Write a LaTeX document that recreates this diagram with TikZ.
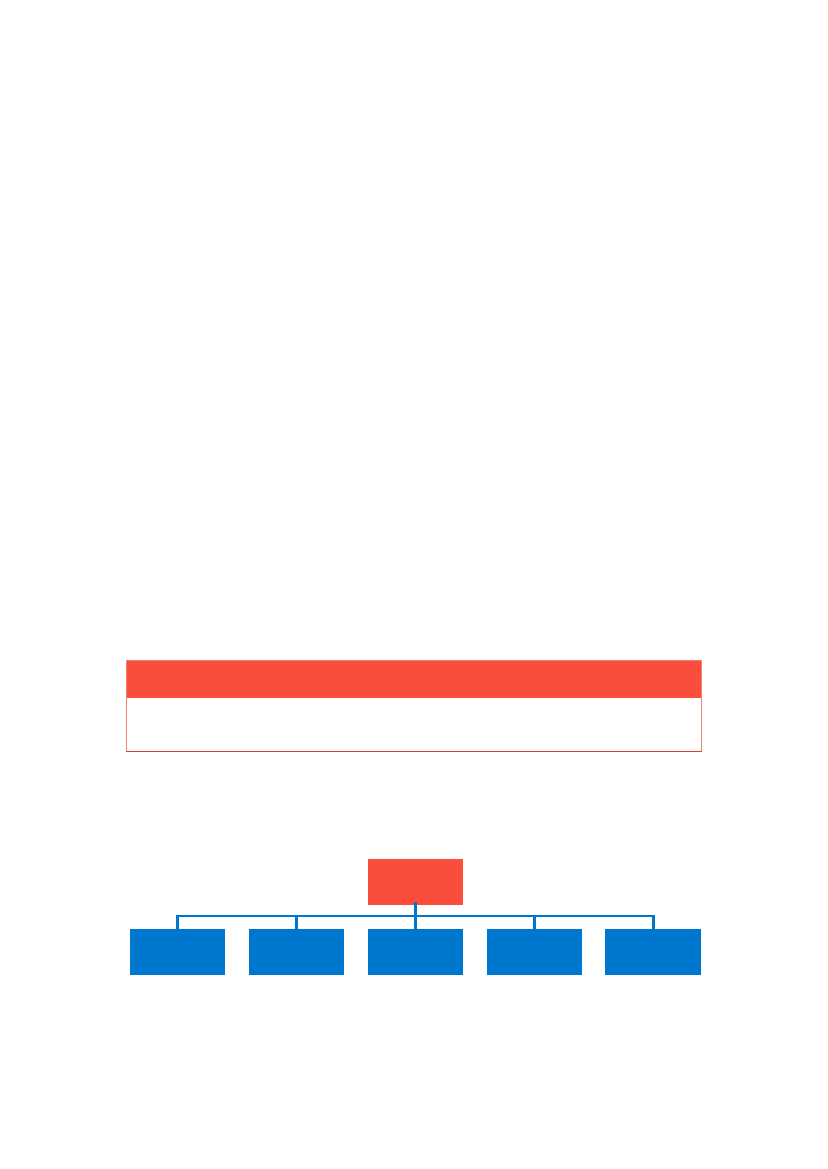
\documentclass[tikz,border=0pt]{standalone}
\definecolor{hred}{HTML}{FA4D3C}
\definecolor{hblue}{HTML}{0077CF}
\definecolor{tborder}{HTML}{F2826F}
\begin{document}
\begin{tikzpicture}[x=1pt,y=-1pt,
  redbox/.style={fill=hred,draw=none,minimum width=95pt,minimum height=46pt,inner sep=0pt,anchor=north west},
  bluebox/.style={fill=hblue,draw=none,minimum width=95pt,minimum height=46pt,inner sep=0pt,anchor=north west},
  conn/.style={draw=hblue,line width=2.7pt}]
\useasboundingbox (0,0) rectangle (827,1169);
% table
\node[fill=hred,draw=none,minimum width=575pt,minimum height=37.5pt,inner sep=0pt,anchor=north west] (thead) at (126,660) {};
\node[draw=tborder,line width=0.8pt,minimum width=575pt,minimum height=91pt,inner sep=0pt,anchor=north west] (tbl) at (126,660) {};
\draw[hred!85!black,line width=0.9pt] (tbl.south west) -- (tbl.south east);
% tree
\node[redbox] (r) at (368,859) {};
\node[bluebox] (c1) at (130,929) {};
\node[bluebox] (c2) at (249,929) {};
\node[bluebox] (c3) at (368,929) {};
\node[bluebox] (c4) at (487,929) {};
\node[bluebox,minimum width=96pt] (c5) at (605,929) {};
\coordinate (bar) at (415.5,916);
\draw[conn] ([yshift=3pt]r.south) -- ([yshift=-3pt]c3.north);
\draw[conn] ([yshift=-3pt]c1.north) |- (bar) -| ([yshift=-3pt]c5.north);
\draw[conn] ([yshift=-3pt]c2.north) -- (c2.north |- bar);
\draw[conn] ([yshift=-3pt]c4.north) -- (c4.north |- bar);
\end{tikzpicture}
\end{document}
